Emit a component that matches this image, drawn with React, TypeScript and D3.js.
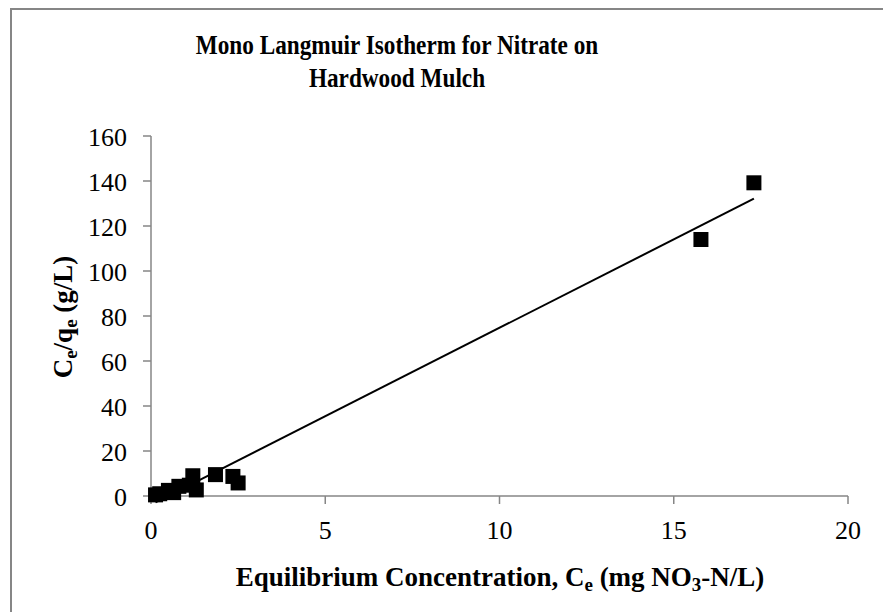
import React from "react";
import * as d3 from "d3";

const ceValues = [0.13, 0.25, 0.5, 0.65, 0.8, 1.1, 1.2, 1.3, 1.85, 2.35, 2.5, 15.78, 17.3];
const ceQeValues = [0.5, 1.0, 2.5, 1.5, 4.3, 4.8, 9.0, 2.7, 9.5, 8.7, 5.8, 114, 139.2];
const xTicks = [0, 5, 10, 15, 20];
const yTicks = [0, 20, 40, 60, 80, 100, 120, 140, 160];
const trendSlope = 7.86;
const trendIntercept = -3.85;

const W = 883;
const H = 612;
const FONT = "'Liberation Serif', 'DejaVu Serif', serif";

export default function App() {
  const x = d3.scaleLinear().domain([0, 20]).range([151, 848]);
  const y = d3.scaleLinear().domain([0, 160]).range([496, 136]);
  const axisColor = "#868686";
  const ms = 15;
  const xMin = d3.min(ceValues) as number;
  const xMax = d3.max(ceValues) as number;
  const trend = d3.line<number>()
    .x((d) => x(d))
    .y((d) => y(trendSlope * d + trendIntercept));
  const titleSx = 0.83;

  return (
    <svg width={W} height={H} style={{ position: "absolute", left: 0, top: 0, background: "#fff" }}>
      <rect x={0} y={0} width={W} height={H} fill="#fff" />
      <path d={`M11,${H + 5} L11,9 L${W + 5},9`} fill="none" stroke={axisColor} strokeWidth={2} />
      <text transform={`translate(397,54) scale(${titleSx},1)`} textAnchor="middle" fontFamily={FONT} fontWeight="bold" fontSize={28} fill="#000">
        Mono Langmuir Isotherm for Nitrate on
      </text>
      <text transform={`translate(397,87) scale(${titleSx},1)`} textAnchor="middle" fontFamily={FONT} fontWeight="bold" fontSize={28} fill="#000">
        Hardwood Mulch
      </text>
      {/* axes */}
      <line x1={x(0)} x2={x(20)} y1={y(0)} y2={y(0)} stroke={axisColor} strokeWidth={1.5} />
      <line x1={x(0)} x2={x(0)} y1={y(0)} y2={y(160)} stroke={axisColor} strokeWidth={1.5} />
      {xTicks.map((t) => (
        <g key={"xt" + t}>
          <line x1={x(t)} x2={x(t)} y1={y(0)} y2={y(0) + 8} stroke={axisColor} strokeWidth={1.5} />
          <text x={x(t)} y={539} textAnchor="middle" fontFamily={FONT} fontSize={26} fill="#000">
            {t}
          </text>
        </g>
      ))}
      {yTicks.map((t) => (
        <g key={"yt" + t}>
          <line x1={x(0) - 8} x2={x(0)} y1={y(t)} y2={y(t)} stroke={axisColor} strokeWidth={1.5} />
          <text x={127} y={y(t) + 10} textAnchor="end" fontFamily={FONT} fontSize={26} fill="#000">
            {t}
          </text>
        </g>
      ))}
      {/* trendline */}
      <path d={trend([xMin, xMax]) || ""} fill="none" stroke="#000" strokeWidth={2} />
      {/* markers */}
      {ceValues.map((v, i) => (
        <rect key={"m" + i} x={x(v) - ms / 2} y={y(ceQeValues[i]) - ms / 2} width={ms} height={ms} fill="#000" />
      ))}
      {/* axis titles */}
      <text x={500} y={586} textAnchor="middle" fontFamily={FONT} fontWeight="bold" fontSize={27} fill="#000">
        Equilibrium Concentration, C
        <tspan fontSize={19} dy={5}>e</tspan>
        <tspan dy={-5}> (mg NO</tspan>
        <tspan fontSize={19} dy={5}>3</tspan>
        <tspan dy={-5}>-N/L)</tspan>
      </text>
      <text transform={`translate(72,317) rotate(-90)`} textAnchor="middle" fontFamily={FONT} fontWeight="bold" fontSize={27} fill="#000">
        C
        <tspan fontSize={19} dy={5}>e</tspan>
        <tspan dy={-5}>/q</tspan>
        <tspan fontSize={19} dy={5}>e</tspan>
        <tspan dy={-5}> (g/L)</tspan>
      </text>
    </svg>
  );
}
